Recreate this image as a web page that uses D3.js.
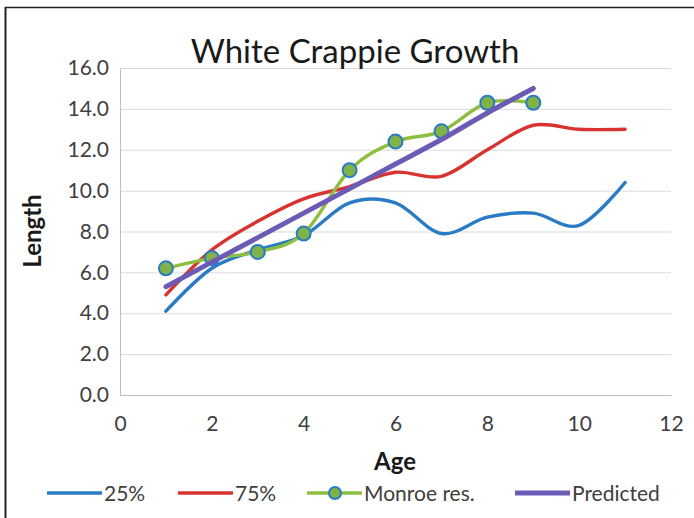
<!DOCTYPE html>
<html>
<head>
<meta charset="utf-8">
<script src="https://cdn.jsdelivr.net/npm/d3@7.9.0/dist/d3.min.js"></script>
<style>
  body { margin: 0; background: #fff; }
  svg { display: block; font-family: Lato, 'Open Sans', sans-serif; }
</style>
</head>
<body>
<div id="chart"></div>
<script>
const ages = [1, 2, 3, 4, 5, 6, 7, 8, 9, 10, 11];
const p25 = [4.1, 6.2, 7.1, 7.8, 9.4, 9.4, 7.9, 8.7, 8.9, 8.3, 10.4];
const p75 = [4.9, 7.1, 8.5, 9.6, 10.2, 10.9, 10.7, 12.0, 13.2, 13.0, 13.0];
const monroeAges = [1, 2, 3, 4, 5, 6, 7, 8, 9];
const monroe = [6.2, 6.7, 7.0, 7.9, 11.0, 12.4, 12.9, 14.3, 14.3];
const predicted = [5.3, 6.5, 7.7, 8.9, 10.1, 11.3, 12.5, 13.8, 15.0];
const xTicks = [0, 2, 4, 6, 8, 10, 12];
const yTicks = [0, 2, 4, 6, 8, 10, 12, 14, 16];

const width = 694;
const height = 518;

const svg = d3.select('#chart')
  .append('svg')
  .attr('width', width)
  .attr('height', height);

// outer frame
svg.append('line').attr('x1', 5).attr('x2', 694).attr('y1', 7.5).attr('y2', 7.5)
  .attr('stroke', '#222').attr('stroke-width', 1.5);
svg.append('line').attr('x1', 5.5).attr('x2', 5.5).attr('y1', 7).attr('y2', 518)
  .attr('stroke', '#222').attr('stroke-width', 2);

const x = d3.scaleLinear().domain([0, 12]).range([120, 671]);
const y = d3.scaleLinear().domain([0, 16]).range([395, 68]);

const tickFont = g => g.selectAll('text').attr('fill', '#404040')
  .style('font-size', '21px').style('font-family', 'Lato, sans-serif');

// gridlines
svg.append('g')
  .attr('transform', `translate(${x(0)},0)`)
  .call(d3.axisLeft(y).tickValues(yTicks).tickFormat('').tickSize(-(x(12) - x(0))))
  .call(g => g.select('.domain').remove())
  .call(g => g.selectAll('line').attr('stroke', '#d9d9d9'));

// y axis
svg.append('g')
  .attr('transform', `translate(${x(0)},0)`)
  .call(d3.axisLeft(y).tickValues(yTicks).tickFormat(d3.format('.1f')).tickSize(0).tickPadding(11))
  .call(g => g.select('.domain').attr('stroke', '#bfbfbf'))
  .call(tickFont);

// x axis
svg.append('g')
  .attr('transform', `translate(0,${y(0)})`)
  .call(d3.axisBottom(x).tickValues(xTicks).tickSize(0).tickPadding(21))
  .call(g => g.select('.domain').attr('stroke', '#bfbfbf'))
  .call(tickFont);

// titles
svg.append('text').attr('x', 355).attr('y', 63).attr('text-anchor', 'middle')
  .attr('fill', '#1a1a1a').style('font-size', '33px').text('White Crappie Growth');
svg.append('text').attr('x', 395).attr('y', 470).attr('text-anchor', 'middle')
  .attr('fill', '#1a1a1a').style('font-size', '24px').style('font-weight', 'bold').text('Age');
svg.append('text').attr('transform', 'translate(41,231) rotate(-90)').attr('text-anchor', 'middle')
  .attr('fill', '#1a1a1a').style('font-size', '24px').style('font-weight', 'bold').text('Length');

const line = d3.line()
  .x(d => x(d[0]))
  .y(d => y(d[1]))
  .curve(d3.curveCardinal.tension(0));

const series = [
  { name: '25%', xs: ages, ys: p25, color: '#2a7bc6', w: 3.4 },
  { name: '75%', xs: ages, ys: p75, color: '#d93331', w: 3.4 },
  { name: 'Monroe res.', xs: monroeAges, ys: monroe, color: '#8cbf3f', w: 3.4, marker: true },
  { name: 'Predicted', xs: monroeAges, ys: predicted, color: '#6b5bb5', w: 5 },
];

series.forEach(s => {
  const pts = s.xs.map((a, i) => [a, s.ys[i]]);
  svg.append('path').datum(pts)
    .attr('d', line)
    .attr('fill', 'none')
    .attr('stroke', s.color)
    .attr('stroke-width', s.w)
    .attr('stroke-linecap', 'round');
  if (s.marker) {
    svg.append('g').selectAll('circle').data(pts).join('circle')
      .attr('cx', d => x(d[0])).attr('cy', d => y(d[1])).attr('r', 7)
      .attr('fill', '#7fb347').attr('stroke', '#2a7bc6').attr('stroke-width', 2);
  }
});

// legend
const legendX = [47, 178, 307, 515];
const legend = svg.append('g').selectAll('g').data(series).join('g')
  .attr('transform', (d, i) => `translate(${legendX[i]},493)`);
legend.append('line').attr('x1', 0).attr('x2', 55)
  .attr('stroke', d => d.color).attr('stroke-width', d => d.w);
legend.filter(d => d.marker).append('circle').attr('cx', 28).attr('r', 6)
  .attr('fill', '#7fb347').attr('stroke', '#2a7bc6').attr('stroke-width', 2);
legend.append('text').attr('x', 57).attr('y', 8)
  .attr('fill', '#404040').style('font-size', '21px').text(d => d.name);
</script>
</body>
</html>
